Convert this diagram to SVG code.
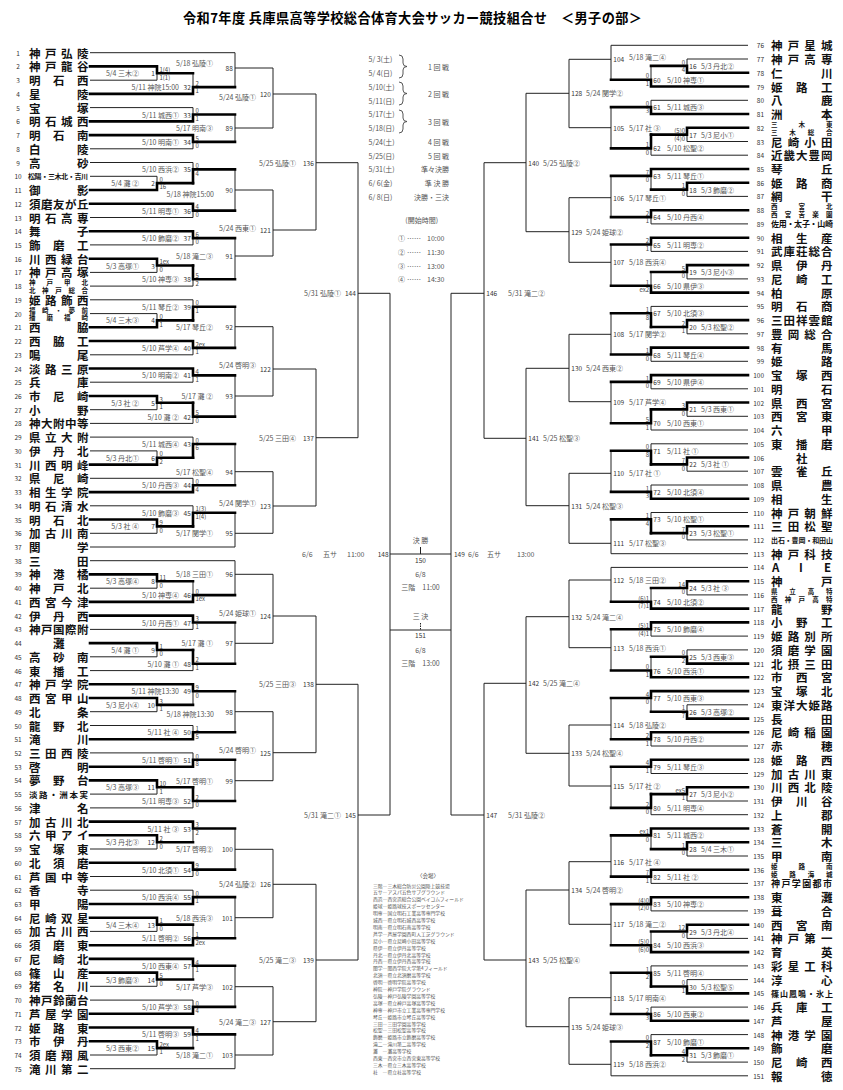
<svg xmlns="http://www.w3.org/2000/svg" width="843" height="1090" viewBox="0 0 843 1090">
<style>
text{font-family:"Noto Sans CJK JP","Noto Sans CJK SC",sans-serif;dominant-baseline:central}
.nm{font-size:11.5px;font-weight:700;fill:#111}
.sm{font-size:6.5px;font-weight:700;fill:#111}
.no{font-size:6.5px;fill:#333;text-anchor:middle}
.nr{font-size:6.5px;fill:#333;text-anchor:end}
.lb{font-size:7px;fill:#555}
.mn{font-size:6.5px;fill:#333}
.sc{font-size:6px;fill:#444}
.e{text-anchor:end}
.c{text-anchor:middle}
.ln{fill:none;stroke:#222;stroke-width:1}
.tk{fill:none;stroke:#000;stroke-width:2.6;stroke-linecap:square;stroke-linejoin:miter}
.vn{font-size:4.8px;fill:#555}
.ti{font-size:13.2px;font-weight:700;fill:#000}
</style>
<rect width="843" height="1090" fill="#fff"/>
<text class="ti" x="183" y="17" textLength="459" lengthAdjust="spacing">令和7年度 兵庫県高等学校総合体育大会サッカー競技組合せ　＜男子の部＞</text>

<g id="connectors">
<path class="ln" d="M90 52.7H235M90 66.4H157M90 80.2H157M90 93.9H193M90 107.6H193M90 121.4H193M90 135.1H193M90 148.8H193M90 162.5H193M90 176.3H157M90 190H157M90 203.7H193M90 217.5H193M90 231.2H193M90 244.9H193M90 258.7H157M90 272.4H157M90 286.1H193M90 299.8H193M90 313.6H157M90 327.3H157M90 341H193M90 354.8H193M90 368.5H193M90 382.2H193M90 396H157M90 409.7H157M90 423.4H193M90 437.1H193M90 450.9H157M90 464.6H157M90 478.3H193M90 492.1H193M90 505.8H193M90 519.5H157M90 533.3H157M90 547H235M90 560.7H235M90 574.4H157M90 588.2H157M90 601.9H193M90 615.6H193M90 629.4H193M90 643.1H157M90 656.8H157M90 670.6H193M90 684.3H193M90 698H157M90 711.7H157M90 725.5H193M90 739.2H193M90 752.9H193M90 766.7H193M90 780.4H157M90 794.1H157M90 807.9H193M90 821.6H193M90 835.3H157M90 849H157M90 862.8H193M90 876.5H193M90 890.2H193M90 904H193M90 917.7H157M90 931.4H157M90 945.2H193M90 958.9H193M90 972.6H157M90 986.3H157M90 1000.1H193M90 1013.8H193M90 1027.5H193M90 1041.3H157M90 1055H157M90 1068.7H235"/>
<path class="ln" d="M157 66.4V80.2M157 73.3H193M157 176.3V190M157 183.1H193M157 258.7V272.4M157 265.5H193M157 313.6V327.3M157 320.4H193M157 396V409.7M157 402.8H193M157 450.9V464.6M157 457.7H193M157 519.5V533.3M157 526.4H193M157 574.4V588.2M157 581.3H193M157 643.1V656.8M157 650H193M157 698V711.7M157 704.9H193M157 780.4V794.1M157 787.3H193M157 835.3V849M157 842.2H193M157 917.7V931.4M157 924.6H193M157 972.6V986.3M157 979.5H193M157 1041.3V1055M157 1048.1H193"/>
<path class="ln" d="M193 73.3V93.9M193 87.1H235M193 107.6V121.4M193 114.5H235M193 135.1V148.8M193 141.9H235M193 162.5V183.1M193 169.4H235M193 203.7V217.5M193 210.6H235M193 231.2V244.9M193 238.1H235M193 265.5V286.1M193 279.3H235M193 299.8V320.4M193 306.7H235M193 341V354.8M193 347.9H235M193 368.5V382.2M193 375.4H235M193 402.8V423.4M193 416.6H235M193 437.1V457.7M193 444H235M193 478.3V492.1M193 485.2H235M193 505.8V526.4M193 512.7H235M193 581.3V601.9M193 595.1H235M193 615.6V629.4M193 622.5H235M193 650V670.6M193 663.7H235M193 684.3V704.9M193 691.2H235M193 725.5V739.2M193 732.3H235M193 752.9V766.7M193 759.8H235M193 787.3V807.9M193 801H235M193 821.6V842.2M193 828.5H235M193 862.8V876.5M193 869.6H235M193 890.2V904M193 897.1H235M193 924.6V945.2M193 938.3H235M193 958.9V979.5M193 965.8H235M193 1000.1V1013.8M193 1006.9H235M193 1027.5V1048.1M193 1034.4H235"/>
<path class="ln" d="M235 52.7V87.1M235 68H273M235 114.5V141.9M235 128H273M235 169.4V210.6M235 190H273M235 238.1V279.3M235 256H273M235 306.7V347.9M235 326.7H273M235 375.4V416.6M235 396H273M235 444V485.2M235 471.7H273M235 512.7V547M235 533.3H273M235 560.7V595.1M235 574.3H273M235 622.5V663.7M235 643.3H273M235 691.2V732.3M235 711.7H273M235 759.8V801M235 780.7H273M235 828.5V869.6M235 849.3H273M235 897.1V938.3M235 917.7H273M235 965.8V1006.9M235 986.7H273M235 1034.4V1068.7M235 1055H273"/>
<path class="ln" d="M273 68V128M273 94H316M273 190V256M273 230H316M273 326.7V396M273 369H316M273 471.7V533.3M273 506H316M273 574.3V643.3M273 616H316M273 711.7V780.7M273 752.7H316M273 849.3V917.7M273 884.3H316M273 986.7V1055M273 1021.7H316M316 94V230M316 162.7H358M316 369V506M316 437.7H358M316 616V752.7M316 684.3H358M316 884.3V1021.7M316 960H358M358 162.7V437.7M358 293.3H390M358 684.3V960M358 815H390M390 293.3V815"/>
<path class="ln" d="M390 554H451M420.5 547V554M390 630H451"/>
<path class="ln" d="M420.5 623V630" stroke-dasharray="1.5 1"/>
<path class="ln" d="M748 45.3H611M748 59H687M748 72.8H687M748 86.5H651M748 100.3H651M748 114H651M748 127.7H687M748 141.5H687M748 155.2H651M748 169H651M748 182.7H687M748 196.4H687M748 210.2H651M748 223.9H651M748 237.7H651M748 251.4H651M748 265.1H687M748 278.9H687M748 292.6H651M748 306.4H651M748 320.1H687M748 333.8H687M748 347.6H651M748 361.3H651M748 375.1H651M748 388.8H651M748 402.5H687M748 416.3H687M748 430H651M748 443.8H651M748 457.5H687M748 471.2H687M748 485H651M748 498.7H651M748 512.5H651M748 526.2H687M748 539.9H687M748 553.7H611M748 567.4H611M748 581.2H687M748 594.9H687M748 608.6H651M748 622.4H651M748 636.1H651M748 649.9H687M748 663.6H687M748 677.3H651M748 691.1H651M748 704.8H687M748 718.6H687M748 732.3H651M748 746H651M748 759.8H651M748 773.5H651M748 787.3H687M748 801H687M748 814.7H651M748 828.5H651M748 842.2H687M748 856H687M748 869.7H651M748 883.4H651M748 897.2H651M748 910.9H651M748 924.7H687M748 938.4H687M748 952.1H651M748 965.9H651M748 979.6H687M748 993.4H687M748 1007.1H651M748 1020.8H651M748 1034.6H651M748 1048.3H687M748 1062.1H687M748 1075.8H611"/>
<path class="ln" d="M687 59V72.8M687 65.9H651M687 127.7V141.5M687 134.6H651M687 182.7V196.4M687 189.6H651M687 265.1V278.9M687 272H651M687 320.1V333.8M687 327H651M687 402.5V416.3M687 409.4H651M687 457.5V471.2M687 464.4H651M687 526.2V539.9M687 533.1H651M687 581.2V594.9M687 588H651M687 649.9V663.6M687 656.7H651M687 704.8V718.6M687 711.7H651M687 787.3V801M687 794.1H651M687 842.2V856M687 849.1H651M687 924.7V938.4M687 931.5H651M687 979.6V993.4M687 986.5H651M687 1048.3V1062.1M687 1055.2H651"/>
<path class="ln" d="M651 65.9V86.5M651 79.7H611M651 100.3V114M651 107.1H611M651 134.6V155.2M651 148.4H611M651 169V189.6M651 175.9H611M651 210.2V223.9M651 217.1H611M651 237.7V251.4M651 244.5H611M651 272V292.6M651 285.8H611M651 306.4V327M651 313.3H611M651 347.6V361.3M651 354.5H611M651 375.1V388.8M651 381.9H611M651 409.4V430M651 423.2H611M651 443.8V464.4M651 450.7H611M651 485V498.7M651 491.9H611M651 512.5V533.1M651 519.4H611M651 588V608.6M651 601.8H611M651 622.4V636.1M651 629.3H611M651 656.7V677.3M651 670.5H611M651 691.1V711.7M651 698H611M651 732.3V746M651 739.2H611M651 759.8V773.5M651 766.7H611M651 794.1V814.7M651 807.9H611M651 828.5V849.1M651 835.4H611M651 869.7V883.4M651 876.6H611M651 897.2V910.9M651 904.1H611M651 931.5V952.1M651 945.3H611M651 965.9V986.5M651 972.8H611M651 1007.1V1020.8M651 1014H611M651 1034.6V1055.2M651 1041.5H611"/>
<path class="ln" d="M611 45.3V79.7M611 59.3H569M611 107.1V148.4M611 127.7H569M611 175.9V217.1M611 197.7H569M611 244.5V285.8M611 262.3H569M611 313.3V354.5M611 334.3H569M611 381.9V423.2M611 401.7H569M611 450.7V491.9M611 473.3H569M611 519.4V553.7M611 543.3H569M611 567.4V601.8M611 580H569M611 629.3V670.5M611 647.7H569M611 698V739.2M611 725H569M611 766.7V807.9M611 786H569M611 835.4V876.6M611 861.7H569M611 904.1V945.3M611 924.3H569M611 972.8V1014M611 997.7H569M611 1041.5V1075.8M611 1064.3H569"/>
<path class="ln" d="M569 59.3V127.7M569 93.3H526M569 197.7V262.3M569 231.7H526M569 334.3V401.7M569 368.3H526M569 473.3V543.3M569 505.7H526M569 580V647.7M569 616.7H526M569 725V786M569 753.3H526M569 861.7V924.3M569 890H526M569 997.7V1064.3M569 1026.7H526M526 93.3V231.7M526 162.7H484M526 368.3V505.7M526 438.3H484M526 616.7V753.3M526 683.3H484M526 890V1026.7M526 960H484M484 162.7V438.3M484 293.3H451M484 683.3V960M484 815H451M451 293.3V815"/>
<path class="tk" d="M90 66.4H157V73.3H193M90 190H157V183.1H193M90 258.7H157V265.5H193M90 327.3H157V320.4H193M90 396H157V402.8H193M90 464.6H157V457.7H193M90 519.5H157V526.4H193M90 574.4H157V581.3H193M90 643.1H157V650H193M90 698H157V704.9H193M90 780.4H157V787.3H193M90 835.3H157V842.2H193M90 917.7H157V924.6H193M90 972.6H157V979.5H193M90 1041.3H157V1048.1H193"/>
<path class="tk" d="M90 93.9H193V87.1H235M90 121.4H193V114.5H235M90 135.1H193V141.9H235M193 183.1V169.4H235M90 203.7H193V210.6H235M90 231.2H193V238.1H235M193 265.5V279.3H235M193 320.4V306.7H235M90 341H193V347.9H235M90 368.5H193V375.4H235M193 402.8V416.6H235M193 457.7V444H235M90 492.1H193V485.2H235M193 526.4V512.7H235M90 601.9H193V595.1H235M90 615.6H193V622.5H235M193 650V663.7H235M90 684.3H193V691.2H235M90 739.2H193V732.3H235M90 766.7H193V759.8H235M193 787.3V801H235M90 821.6H193V828.5H235M90 862.8H193V869.6H235M90 904H193V897.1H235M90 945.2H193V938.3H235M90 958.9H193V965.8H235M90 1013.8H193V1006.9H235M90 1027.5H193V1034.4H235"/>
<path class="tk" d="M748 72.8H687V65.9H651M748 127.7H687V134.6H651M748 182.7H687V189.6H651M748 265.1H687V272H651M748 320.1H687V327H651M748 402.5H687V409.4H651M748 457.5H687V464.4H651M748 526.2H687V533.1H651M748 581.2H687V588H651M748 663.6H687V656.7H651M748 718.6H687V711.7H651M748 787.3H687V794.1H651M748 842.2H687V849.1H651M748 924.7H687V931.5H651M748 993.4H687V986.5H651M748 1048.3H687V1055.2H651"/>
<path class="tk" d="M748 86.5H651V79.7H611M748 114H651V107.1H611M651 134.6V148.4H611M748 169H651V175.9H611M748 210.2H651V217.1H611M748 237.7H651V244.5H611M748 292.6H651V285.8H611M651 327V313.3H611M748 347.6H651V354.5H611M748 375.1H651V381.9H611M651 409.4V423.2H611M651 464.4V450.7H611M748 498.7H651V491.9H611M651 533.1V519.4H611M748 608.6H651V601.8H611M748 622.4H651V629.3H611M748 677.3H651V670.5H611M748 691.1H651V698H611M748 732.3H651V739.2H611M748 759.8H651V766.7H611M651 794.1V807.9H611M748 828.5H651V835.4H611M748 869.7H651V876.6H611M748 897.2H651V904.1H611M748 952.1H651V945.3H611M651 986.5V972.8H611M748 1020.8H651V1014H611M651 1055.2V1041.5H611"/>
</g>

<g id="teams-left">
<g id="t1"><text class="no" x="18" y="52.7">1</text><text class="nm" x="29 45 61 77" y="52.7">神戸弘陵</text></g>
<g id="t2"><text class="no" x="18" y="66.4">2</text><text class="nm" x="29 45 61 77" y="66.4">神戸龍谷</text></g>
<g id="t3"><text class="no" x="18" y="80.2">3</text><text class="nm" x="29 53 77" y="80.2">明石西</text></g>
<g id="t4"><text class="no" x="18" y="93.9">4</text><text class="nm" x="29 77" y="93.9">星陵</text></g>
<g id="t5"><text class="no" x="18" y="107.6">5</text><text class="nm" x="29 77" y="107.6">宝塚</text></g>
<g id="t6"><text class="no" x="18" y="121.4">6</text><text class="nm" x="29 45 61 77" y="121.4">明石城西</text></g>
<g id="t7"><text class="no" x="18" y="135.1">7</text><text class="nm" x="29 53 77" y="135.1">明石南</text></g>
<g id="t8"><text class="no" x="18" y="148.8">8</text><text class="nm" x="29 77" y="148.8">白陵</text></g>
<g id="t9"><text class="no" x="18" y="162.5">9</text><text class="nm" x="29 77" y="162.5">高砂</text></g>
<g id="t10"><text class="no" x="18" y="176.3">10</text><text class="sm" style="font-size:7px" x="28 34.6 41.3 47.9 54.5 61.1 67.8 74.4 81" y="176.3">松陽・三木北・吉川</text></g>
<g id="t11"><text class="no" x="18" y="190">11</text><text class="nm" x="29 77" y="190">御影</text></g>
<g id="t12"><text class="no" x="18" y="203.7">12</text><text class="nm" x="29 41 53 65 77" y="203.7">須磨友が丘</text></g>
<g id="t13"><text class="no" x="18" y="217.5">13</text><text class="nm" x="29 45 61 77" y="217.5">明石高専</text></g>
<g id="t14"><text class="no" x="18" y="231.2">14</text><text class="nm" x="29 77" y="231.2">舞子</text></g>
<g id="t15"><text class="no" x="18" y="244.9">15</text><text class="nm" x="29 53 77" y="244.9">飾磨工</text></g>
<g id="t16"><text class="no" x="18" y="258.7">16</text><text class="nm" x="29 45 61 77" y="258.7">川西緑台</text></g>
<g id="t17"><text class="no" x="18" y="272.4">17</text><text class="nm" x="29 45 61 77" y="272.4">神戸高塚</text></g>
<g id="t18"><text class="no" x="18" y="286.1">18</text><text class="sm" x="29 46.5 64 81.5" y="282.3">神戸甲北</text><text class="sm" x="29 42.1 55.2 68.4 81.5" y="289.9">北神戸総合</text></g>
<g id="t19"><text class="no" x="18" y="299.8">19</text><text class="nm" x="29 45 61 77" y="299.8">姫路飾西</text></g>
<g id="t20"><text class="no" x="18" y="313.6">20</text><text class="sm" x="29 42.1 55.2 68.4 81.5" y="309.8">福崎・夢前</text><text class="sm" x="29 46.5 64 81.5" y="317.4">播磨福崎</text></g>
<g id="t21"><text class="no" x="18" y="327.3">21</text><text class="nm" x="29 77" y="327.3">西脇</text></g>
<g id="t22"><text class="no" x="18" y="341">22</text><text class="nm" x="29 53 77" y="341">西脇工</text></g>
<g id="t23"><text class="no" x="18" y="354.8">23</text><text class="nm" x="29 77" y="354.8">鳴尾</text></g>
<g id="t24"><text class="no" x="18" y="368.5">24</text><text class="nm" x="29 45 61 77" y="368.5">淡路三原</text></g>
<g id="t25"><text class="no" x="18" y="382.2">25</text><text class="nm" x="29 77" y="382.2">兵庫</text></g>
<g id="t26"><text class="no" x="18" y="396">26</text><text class="nm" x="29 53 77" y="396">市尼崎</text></g>
<g id="t27"><text class="no" x="18" y="409.7">27</text><text class="nm" x="29 77" y="409.7">小野</text></g>
<g id="t28"><text class="no" x="18" y="423.4">28</text><text class="nm" x="29 41 53 65 77" y="423.4">神大附中等</text></g>
<g id="t29"><text class="no" x="18" y="437.1">29</text><text class="nm" x="29 45 61 77" y="437.1">県立大附</text></g>
<g id="t30"><text class="no" x="18" y="450.9">30</text><text class="nm" x="29 53 77" y="450.9">伊丹北</text></g>
<g id="t31"><text class="no" x="18" y="464.6">31</text><text class="nm" x="29 45 61 77" y="464.6">川西明峰</text></g>
<g id="t32"><text class="no" x="18" y="478.3">32</text><text class="nm" x="29 53 77" y="478.3">県尼崎</text></g>
<g id="t33"><text class="no" x="18" y="492.1">33</text><text class="nm" x="29 45 61 77" y="492.1">相生学院</text></g>
<g id="t34"><text class="no" x="18" y="505.8">34</text><text class="nm" x="29 45 61 77" y="505.8">明石清水</text></g>
<g id="t35"><text class="no" x="18" y="519.5">35</text><text class="nm" x="29 53 77" y="519.5">明石北</text></g>
<g id="t36"><text class="no" x="18" y="533.3">36</text><text class="nm" x="29 45 61 77" y="533.3">加古川南</text></g>
<g id="t37"><text class="no" x="18" y="547">37</text><text class="nm" x="29 77" y="547">関学</text></g>
<g id="t38"><text class="no" x="18" y="560.7">38</text><text class="nm" x="29 77" y="560.7">三田</text></g>
<g id="t39"><text class="no" x="18" y="574.4">39</text><text class="nm" x="29 53 77" y="574.4">神港橘</text></g>
<g id="t40"><text class="no" x="18" y="588.2">40</text><text class="nm" x="29 53 77" y="588.2">神戸北</text></g>
<g id="t41"><text class="no" x="18" y="601.9">41</text><text class="nm" x="29 45 61 77" y="601.9">西宮今津</text></g>
<g id="t42"><text class="no" x="18" y="615.6">42</text><text class="nm" x="29 53 77" y="615.6">伊丹西</text></g>
<g id="t43"><text class="no" x="18" y="629.4">43</text><text class="nm" x="29 41 53 65 77" y="629.4">神戸国際附</text></g>
<g id="t44"><text class="no" x="18" y="643.1">44</text><text class="nm" x="53" y="643.1">灘</text></g>
<g id="t45"><text class="no" x="18" y="656.8">45</text><text class="nm" x="29 53 77" y="656.8">高砂南</text></g>
<g id="t46"><text class="no" x="18" y="670.6">46</text><text class="nm" x="29 53 77" y="670.6">東播工</text></g>
<g id="t47"><text class="no" x="18" y="684.3">47</text><text class="nm" x="29 45 61 77" y="684.3">神戸学院</text></g>
<g id="t48"><text class="no" x="18" y="698">48</text><text class="nm" x="29 45 61 77" y="698">西宮甲山</text></g>
<g id="t49"><text class="no" x="18" y="711.7">49</text><text class="nm" x="29 77" y="711.7">北条</text></g>
<g id="t50"><text class="no" x="18" y="725.5">50</text><text class="nm" x="29 53 77" y="725.5">龍野北</text></g>
<g id="t51"><text class="no" x="18" y="739.2">51</text><text class="nm" x="29 77" y="739.2">滝川</text></g>
<g id="t52"><text class="no" x="18" y="752.9">52</text><text class="nm" x="29 45 61 77" y="752.9">三田西陵</text></g>
<g id="t53"><text class="no" x="18" y="766.7">53</text><text class="nm" x="29 77" y="766.7">啓明</text></g>
<g id="t54"><text class="no" x="18" y="780.4">54</text><text class="nm" x="29 53 77" y="780.4">夢野台</text></g>
<g id="t55"><text class="no" x="18" y="794.1">55</text><text class="sm" style="font-size:8.5px" x="29 39.1 49.2 59.3 69.4 79.5" y="794.1">淡路・洲本実</text></g>
<g id="t56"><text class="no" x="18" y="807.9">56</text><text class="nm" x="29 77" y="807.9">津名</text></g>
<g id="t57"><text class="no" x="18" y="821.6">57</text><text class="nm" x="29 45 61 77" y="821.6">加古川北</text></g>
<g id="t58"><text class="no" x="18" y="835.3">58</text><text class="nm" x="29 45 61 77" y="835.3">六甲アイ</text></g>
<g id="t59"><text class="no" x="18" y="849">59</text><text class="nm" x="29 53 77" y="849">宝塚東</text></g>
<g id="t60"><text class="no" x="18" y="862.8">60</text><text class="nm" x="29 53 77" y="862.8">北須磨</text></g>
<g id="t61"><text class="no" x="18" y="876.5">61</text><text class="nm" x="29 45 61 77" y="876.5">芦国中等</text></g>
<g id="t62"><text class="no" x="18" y="890.2">62</text><text class="nm" x="29 77" y="890.2">香寺</text></g>
<g id="t63"><text class="no" x="18" y="904">63</text><text class="nm" x="29 77" y="904">甲陽</text></g>
<g id="t64"><text class="no" x="18" y="917.7">64</text><text class="nm" x="29 45 61 77" y="917.7">尼崎双星</text></g>
<g id="t65"><text class="no" x="18" y="931.4">65</text><text class="nm" x="29 45 61 77" y="931.4">加古川西</text></g>
<g id="t66"><text class="no" x="18" y="945.2">66</text><text class="nm" x="29 53 77" y="945.2">須磨東</text></g>
<g id="t67"><text class="no" x="18" y="958.9">67</text><text class="nm" x="29 53 77" y="958.9">尼崎北</text></g>
<g id="t68"><text class="no" x="18" y="972.6">68</text><text class="nm" x="29 53 77" y="972.6">篠山産</text></g>
<g id="t69"><text class="no" x="18" y="986.3">69</text><text class="nm" x="29 53 77" y="986.3">猪名川</text></g>
<g id="t70"><text class="no" x="18" y="1000.1">70</text><text class="nm" x="29 41 53 65 77" y="1000.1">神戸鈴蘭台</text></g>
<g id="t71"><text class="no" x="18" y="1013.8">71</text><text class="nm" x="29 45 61 77" y="1013.8">芦屋学園</text></g>
<g id="t72"><text class="no" x="18" y="1027.5">72</text><text class="nm" x="29 53 77" y="1027.5">姫路東</text></g>
<g id="t73"><text class="no" x="18" y="1041.3">73</text><text class="nm" x="29 53 77" y="1041.3">市伊丹</text></g>
<g id="t74"><text class="no" x="18" y="1055">74</text><text class="nm" x="29 45 61 77" y="1055">須磨翔風</text></g>
<g id="t75"><text class="no" x="18" y="1068.7">75</text><text class="nm" x="29 45 61 77" y="1068.7">滝川第二</text></g>
</g>

<g id="teams-right">
<g id="t76"><text class="nr" x="764" y="45.3">76</text><text class="nm" x="771 787.7 804.3 821" y="45.3">神戸星城</text></g>
<g id="t77"><text class="nr" x="764" y="59">77</text><text class="nm" x="771 787.7 804.3 821" y="59">神戸高専</text></g>
<g id="t78"><text class="nr" x="764" y="72.8">78</text><text class="nm" x="771 821" y="72.8">仁川</text></g>
<g id="t79"><text class="nr" x="764" y="86.5">79</text><text class="nm" x="771 796 821" y="86.5">姫路工</text></g>
<g id="t80"><text class="nr" x="764" y="100.3">80</text><text class="nm" x="771 821" y="100.3">八鹿</text></g>
<g id="t81"><text class="nr" x="764" y="114">81</text><text class="nm" x="771 821" y="114">洲本</text></g>
<g id="t82"><text class="nr" x="764" y="127.7">82</text><text class="sm" x="771 798.5 826" y="123.9">三木東</text><text class="sm" x="771 789.3 807.7 826" y="131.5">三木総合</text></g>
<g id="t83"><text class="nr" x="764" y="141.5">83</text><text class="nm" x="771 787.7 804.3 821" y="141.5">尼崎小田</text></g>
<g id="t84"><text class="nr" x="764" y="155.2">84</text><text class="nm" x="771 783.5 796 808.5 821" y="155.2">近畿大豊岡</text></g>
<g id="t85"><text class="nr" x="764" y="169">85</text><text class="nm" x="771 821" y="169">琴丘</text></g>
<g id="t86"><text class="nr" x="764" y="182.7">86</text><text class="nm" x="771 796 821" y="182.7">姫路商</text></g>
<g id="t87"><text class="nr" x="764" y="196.4">87</text><text class="nm" x="771 821" y="196.4">網干</text></g>
<g id="t88"><text class="nr" x="764" y="210.2">88</text><text class="sm" x="771 798.5 826" y="206.4">西宮北</text><text class="sm" x="771 784.8 798.5 812.3 826" y="214">西宮苦楽園</text></g>
<g id="t89"><text class="nr" x="764" y="223.9">89</text><text class="sm" style="font-size:8px" x="771 778.7 786.4 794.1 801.9 809.6 817.3 825" y="223.9">佐用・太子・山崎</text></g>
<g id="t90"><text class="nr" x="764" y="237.7">90</text><text class="nm" x="771 796 821" y="237.7">相生産</text></g>
<g id="t91"><text class="nr" x="764" y="251.4">91</text><text class="nm" x="771 783.5 796 808.5 821" y="251.4">武庫荘総合</text></g>
<g id="t92"><text class="nr" x="764" y="265.1">92</text><text class="nm" x="771 796 821" y="265.1">県伊丹</text></g>
<g id="t93"><text class="nr" x="764" y="278.9">93</text><text class="nm" x="771 796 821" y="278.9">尼崎工</text></g>
<g id="t94"><text class="nr" x="764" y="292.6">94</text><text class="nm" x="771 821" y="292.6">柏原</text></g>
<g id="t95"><text class="nr" x="764" y="306.4">95</text><text class="nm" x="771 796 821" y="306.4">明石商</text></g>
<g id="t96"><text class="nr" x="764" y="320.1">96</text><text class="nm" x="771 783.5 796 808.5 821" y="320.1">三田祥雲館</text></g>
<g id="t97"><text class="nr" x="764" y="333.8">97</text><text class="nm" x="771 787.7 804.3 821" y="333.8">豊岡総合</text></g>
<g id="t98"><text class="nr" x="764" y="347.6">98</text><text class="nm" x="771 821" y="347.6">有馬</text></g>
<g id="t99"><text class="nr" x="764" y="361.3">99</text><text class="nm" x="771 821" y="361.3">姫路</text></g>
<g id="t100"><text class="nr" x="764" y="375.1">100</text><text class="nm" x="771 796 821" y="375.1">宝塚西</text></g>
<g id="t101"><text class="nr" x="764" y="388.8">101</text><text class="nm" x="771 821" y="388.8">明石</text></g>
<g id="t102"><text class="nr" x="764" y="402.5">102</text><text class="nm" x="771 796 821" y="402.5">県西宮</text></g>
<g id="t103"><text class="nr" x="764" y="416.3">103</text><text class="nm" x="771 796 821" y="416.3">西宮東</text></g>
<g id="t104"><text class="nr" x="764" y="430">104</text><text class="nm" x="771 821" y="430">六甲</text></g>
<g id="t105"><text class="nr" x="764" y="443.8">105</text><text class="nm" x="771 796 821" y="443.8">東播磨</text></g>
<g id="t106"><text class="nr" x="764" y="457.5">106</text><text class="nm" x="796" y="457.5">社</text></g>
<g id="t107"><text class="nr" x="764" y="471.2">107</text><text class="nm" x="771 796 821" y="471.2">雲雀丘</text></g>
<g id="t108"><text class="nr" x="764" y="485">108</text><text class="nm" x="771 821" y="485">県農</text></g>
<g id="t109"><text class="nr" x="764" y="498.7">109</text><text class="nm" x="771 821" y="498.7">相生</text></g>
<g id="t110"><text class="nr" x="764" y="512.5">110</text><text class="nm" x="771 787.7 804.3 821" y="512.5">神戸朝鮮</text></g>
<g id="t111"><text class="nr" x="764" y="526.2">111</text><text class="nm" x="771 787.7 804.3 821" y="526.2">三田松聖</text></g>
<g id="t112"><text class="nr" x="764" y="539.9">112</text><text class="sm" style="font-size:7px" x="771 777.9 784.8 791.6 798.5 805.4 812.3 819.1 826" y="539.9">出石・豊岡・和田山</text></g>
<g id="t113"><text class="nr" x="764" y="553.7">113</text><text class="nm" x="771 787.7 804.3 821" y="553.7">神戸科技</text></g>
<g id="t114"><text class="nr" x="764" y="567.4">114</text><text class="nm" x="772 799 824" y="567.4">AIE</text></g>
<g id="t115"><text class="nr" x="764" y="581.2">115</text><text class="nm" x="771 821" y="581.2">神戸</text></g>
<g id="t116"><text class="nr" x="764" y="594.9">116</text><text class="sm" x="771 789.3 807.7 826" y="591.1">県立高特</text><text class="sm" x="771 784.8 798.5 812.3 826" y="598.7">西神戸高特</text></g>
<g id="t117"><text class="nr" x="764" y="608.6">117</text><text class="nm" x="771 821" y="608.6">龍野</text></g>
<g id="t118"><text class="nr" x="764" y="622.4">118</text><text class="nm" x="771 796 821" y="622.4">小野工</text></g>
<g id="t119"><text class="nr" x="764" y="636.1">119</text><text class="nm" x="771 787.7 804.3 821" y="636.1">姫路別所</text></g>
<g id="t120"><text class="nr" x="764" y="649.9">120</text><text class="nm" x="771 787.7 804.3 821" y="649.9">須磨学園</text></g>
<g id="t121"><text class="nr" x="764" y="663.6">121</text><text class="nm" x="771 787.7 804.3 821" y="663.6">北摂三田</text></g>
<g id="t122"><text class="nr" x="764" y="677.3">122</text><text class="nm" x="771 796 821" y="677.3">市西宮</text></g>
<g id="t123"><text class="nr" x="764" y="691.1">123</text><text class="nm" x="771 796 821" y="691.1">宝塚北</text></g>
<g id="t124"><text class="nr" x="764" y="704.8">124</text><text class="nm" x="771 783.5 796 808.5 821" y="704.8">東洋大姫路</text></g>
<g id="t125"><text class="nr" x="764" y="718.6">125</text><text class="nm" x="771 821" y="718.6">長田</text></g>
<g id="t126"><text class="nr" x="764" y="732.3">126</text><text class="nm" x="771 787.7 804.3 821" y="732.3">尼崎稲園</text></g>
<g id="t127"><text class="nr" x="764" y="746">127</text><text class="nm" x="771 821" y="746">赤穂</text></g>
<g id="t128"><text class="nr" x="764" y="759.8">128</text><text class="nm" x="771 796 821" y="759.8">姫路西</text></g>
<g id="t129"><text class="nr" x="764" y="773.5">129</text><text class="nm" x="771 787.7 804.3 821" y="773.5">加古川東</text></g>
<g id="t130"><text class="nr" x="764" y="787.3">130</text><text class="nm" x="771 787.7 804.3 821" y="787.3">川西北陵</text></g>
<g id="t131"><text class="nr" x="764" y="801">131</text><text class="nm" x="771 796 821" y="801">伊川谷</text></g>
<g id="t132"><text class="nr" x="764" y="814.7">132</text><text class="nm" x="771 821" y="814.7">上郡</text></g>
<g id="t133"><text class="nr" x="764" y="828.5">133</text><text class="nm" x="771 821" y="828.5">蒼開</text></g>
<g id="t134"><text class="nr" x="764" y="842.2">134</text><text class="nm" x="771 821" y="842.2">三木</text></g>
<g id="t135"><text class="nr" x="764" y="856">135</text><text class="nm" x="771 821" y="856">甲南</text></g>
<g id="t136"><text class="nr" x="764" y="869.7">136</text><text class="sm" x="771 798.5 826" y="865.9">姫路南</text><text class="sm" x="771 789.3 807.7 826" y="873.5">姫路海城</text></g>
<g id="t137"><text class="nr" x="764" y="883.4">137</text><text class="sm" style="font-size:9px" x="771 781.4 791.8 802.2 812.6 823" y="883.4">神戸学園都市</text></g>
<g id="t138"><text class="nr" x="764" y="897.2">138</text><text class="nm" x="771 821" y="897.2">東灘</text></g>
<g id="t139"><text class="nr" x="764" y="910.9">139</text><text class="nm" x="771 821" y="910.9">葺合</text></g>
<g id="t140"><text class="nr" x="764" y="924.7">140</text><text class="nm" x="771 796 821" y="924.7">西宮南</text></g>
<g id="t141"><text class="nr" x="764" y="938.4">141</text><text class="nm" x="771 787.7 804.3 821" y="938.4">神戸第一</text></g>
<g id="t142"><text class="nr" x="764" y="952.1">142</text><text class="nm" x="771 821" y="952.1">育英</text></g>
<g id="t143"><text class="nr" x="764" y="965.9">143</text><text class="nm" x="771 787.7 804.3 821" y="965.9">彩星工科</text></g>
<g id="t144"><text class="nr" x="764" y="979.6">144</text><text class="nm" x="771 821" y="979.6">淳心</text></g>
<g id="t145"><text class="nr" x="764" y="993.4">145</text><text class="sm" style="font-size:8px" x="771 780 789 798 807 816 825" y="993.4">篠山鳳鳴・氷上</text></g>
<g id="t146"><text class="nr" x="764" y="1007.1">146</text><text class="nm" x="771 796 821" y="1007.1">兵庫工</text></g>
<g id="t147"><text class="nr" x="764" y="1020.8">147</text><text class="nm" x="771 821" y="1020.8">芦屋</text></g>
<g id="t148"><text class="nr" x="764" y="1034.6">148</text><text class="nm" x="771 787.7 804.3 821" y="1034.6">神港学園</text></g>
<g id="t149"><text class="nr" x="764" y="1048.3">149</text><text class="nm" x="771 821" y="1048.3">飾磨</text></g>
<g id="t150"><text class="nr" x="764" y="1062.1">150</text><text class="nm" x="771 796 821" y="1062.1">尼崎西</text></g>
<g id="t151"><text class="nr" x="764" y="1075.8">151</text><text class="nm" x="771 821" y="1075.8">報徳</text></g>
</g>

<g id="matches-left-r1">
<g id="m1"><text class="lb e" x="139" y="73.3">5/4 三木②</text><text class="mn e" x="154.8" y="73.3">1</text><text class="sc" x="159.5" y="69.5">1(4)</text><text class="sc" x="159.5" y="77.1">1(1)</text></g>
<g id="m2"><text class="lb e" x="139" y="183.1">5/4 灘 ②</text><text class="mn e" x="154.8" y="183.1">2</text><text class="sc" x="159.5" y="179.3">0</text><text class="sc" x="159.5" y="186.9">16</text></g>
<g id="m3"><text class="lb e" x="139" y="265.5">5/3 高塚①</text><text class="mn e" x="154.8" y="265.5">3</text><text class="sc" x="159.5" y="261.7">1ex</text><text class="sc" x="159.5" y="269.3">0</text></g>
<g id="m4"><text class="lb e" x="139" y="320.4">5/4 三木③</text><text class="mn e" x="154.8" y="320.4">4</text><text class="sc" x="159.5" y="316.6">0</text><text class="sc" x="159.5" y="324.2">1</text></g>
<g id="m5"><text class="lb e" x="139" y="402.8">5/3 社 ②</text><text class="mn e" x="154.8" y="402.8">5</text><text class="sc" x="159.5" y="399">3</text><text class="sc" x="159.5" y="406.6">1</text></g>
<g id="m6"><text class="lb e" x="139" y="457.7">5/3 丹北①</text><text class="mn e" x="154.8" y="457.7">6</text><text class="sc" x="159.5" y="453.9">0</text><text class="sc" x="159.5" y="461.5">2</text></g>
<g id="m7"><text class="lb e" x="139" y="526.4">5/3 社 ④</text><text class="mn e" x="154.8" y="526.4">7</text><text class="sc" x="159.5" y="522.6">9</text><text class="sc" x="159.5" y="530.2">0</text></g>
<g id="m8"><text class="lb e" x="139" y="581.3">5/3 高塚④</text><text class="mn e" x="154.8" y="581.3">8</text><text class="sc" x="159.5" y="577.5">11</text><text class="sc" x="159.5" y="585.1">0</text></g>
<g id="m9"><text class="lb e" x="139" y="650">5/4 灘 ①</text><text class="mn e" x="154.8" y="650">9</text><text class="sc" x="159.5" y="646.2">1</text><text class="sc" x="159.5" y="653.8">0</text></g>
<g id="m10"><text class="lb e" x="139" y="704.9">5/3 尼小④</text><text class="mn e" x="154.8" y="704.9">10</text><text class="sc" x="159.5" y="701.1">3</text><text class="sc" x="159.5" y="708.7">1</text></g>
<g id="m11"><text class="lb e" x="139" y="787.3">5/3 高塚③</text><text class="mn e" x="154.8" y="787.3">11</text><text class="sc" x="159.5" y="783.5">10</text><text class="sc" x="159.5" y="791.1">1</text></g>
<g id="m12"><text class="lb e" x="139" y="842.2">5/3 丹北③</text><text class="mn e" x="154.8" y="842.2">12</text><text class="sc" x="159.5" y="838.4">2</text><text class="sc" x="159.5" y="846">0</text></g>
<g id="m13"><text class="lb e" x="139" y="924.6">5/4 三木④</text><text class="mn e" x="154.8" y="924.6">13</text><text class="sc" x="159.5" y="920.8">1</text><text class="sc" x="159.5" y="928.4">0</text></g>
<g id="m14"><text class="lb e" x="139" y="979.5">5/3 飾磨③</text><text class="mn e" x="154.8" y="979.5">14</text><text class="sc" x="159.5" y="975.7">5</text><text class="sc" x="159.5" y="983.3">0</text></g>
<g id="m15"><text class="lb e" x="139" y="1048.1">5/3 西東②</text><text class="mn e" x="154.8" y="1048.1">15</text><text class="sc" x="159.5" y="1044.3">2ex</text><text class="sc" x="159.5" y="1051.9">1</text></g>
</g>

<g id="matches-left-r2">
<g id="m32"><text class="lb e" x="179" y="87.1">5/11 神院15:00</text><text class="mn e" x="190.8" y="87.1">32</text><text class="sc" x="195.5" y="83.3">2</text><text class="sc" x="195.5" y="90.9">1</text></g>
<g id="m33"><text class="lb e" x="179" y="114.5">5/11 城西①</text><text class="mn e" x="190.8" y="114.5">33</text><text class="sc" x="195.5" y="110.7">0</text><text class="sc" x="195.5" y="118.3">1</text></g>
<g id="m34"><text class="lb e" x="179" y="141.9">5/10 明南①</text><text class="mn e" x="190.8" y="141.9">34</text><text class="sc" x="195.5" y="138.1">5</text><text class="sc" x="195.5" y="145.7">0</text></g>
<g id="m35"><text class="lb e" x="179" y="169.4">5/10 西浜②</text><text class="mn e" x="190.8" y="169.4">35</text><text class="sc" x="195.5" y="165.6">0</text><text class="sc" x="195.5" y="173.2">4</text></g>
<g id="m36"><text class="lb e" x="179" y="210.6">5/11 明専①</text><text class="mn e" x="190.8" y="210.6">36</text><text class="sc" x="195.5" y="206.8">4</text><text class="sc" x="195.5" y="214.4">0</text></g>
<g id="m37"><text class="lb e" x="179" y="238.1">5/10 飾磨②</text><text class="mn e" x="190.8" y="238.1">37</text><text class="sc" x="195.5" y="234.3">6</text><text class="sc" x="195.5" y="241.9">0</text></g>
<g id="m38"><text class="lb e" x="179" y="279.3">5/10 神専③</text><text class="mn e" x="190.8" y="279.3">38</text><text class="sc" x="195.5" y="275.5">5</text><text class="sc" x="195.5" y="283.1">2</text></g>
<g id="m39"><text class="lb e" x="179" y="306.7">5/11 琴丘②</text><text class="mn e" x="190.8" y="306.7">39</text><text class="sc" x="195.5" y="302.9">0</text><text class="sc" x="195.5" y="310.5">1</text></g>
<g id="m40"><text class="lb e" x="179" y="347.9">5/10 芦学④</text><text class="mn e" x="190.8" y="347.9">40</text><text class="sc" x="195.5" y="344.1">2ex</text><text class="sc" x="195.5" y="351.7">1</text></g>
<g id="m41"><text class="lb e" x="179" y="375.4">5/10 明南②</text><text class="mn e" x="190.8" y="375.4">41</text><text class="sc" x="195.5" y="371.6">4</text><text class="sc" x="195.5" y="379.2">1</text></g>
<g id="m42"><text class="lb e" x="179" y="416.6">5/10 灘 ②</text><text class="mn e" x="190.8" y="416.6">42</text><text class="sc" x="195.5" y="412.8">5</text><text class="sc" x="195.5" y="420.4">0</text></g>
<g id="m43"><text class="lb e" x="179" y="444">5/11 城西④</text><text class="mn e" x="190.8" y="444">43</text><text class="sc" x="195.5" y="440.2">0</text><text class="sc" x="195.5" y="447.8">6</text></g>
<g id="m44"><text class="lb e" x="179" y="485.2">5/10 丹西③</text><text class="mn e" x="190.8" y="485.2">44</text><text class="sc" x="195.5" y="481.4">0</text><text class="sc" x="195.5" y="489">4</text></g>
<g id="m45"><text class="lb e" x="179" y="512.7">5/10 飾磨③</text><text class="mn e" x="190.8" y="512.7">45</text><text class="sc" x="195.5" y="508.9">1(3)</text><text class="sc" x="195.5" y="516.5">1(4)</text></g>
<g id="m46"><text class="lb e" x="179" y="595.1">5/10 神専④</text><text class="mn e" x="190.8" y="595.1">46</text><text class="sc" x="195.5" y="591.3">0</text><text class="sc" x="195.5" y="598.9">1ex</text></g>
<g id="m47"><text class="lb e" x="179" y="622.5">5/10 丹西①</text><text class="mn e" x="190.8" y="622.5">47</text><text class="sc" x="195.5" y="618.7">3</text><text class="sc" x="195.5" y="626.3">1</text></g>
<g id="m48"><text class="lb e" x="179" y="663.7">5/10 灘 ①</text><text class="mn e" x="190.8" y="663.7">48</text><text class="sc" x="195.5" y="659.9">2</text><text class="sc" x="195.5" y="667.5">1</text></g>
<g id="m49"><text class="lb e" x="179" y="691.2">5/11 神院13:30</text><text class="mn e" x="190.8" y="691.2">49</text><text class="sc" x="195.5" y="687.4">9</text><text class="sc" x="195.5" y="695">0</text></g>
<g id="m50"><text class="lb e" x="179" y="732.3">5/11 社 ④</text><text class="mn e" x="190.8" y="732.3">50</text><text class="sc" x="195.5" y="728.5">1</text><text class="sc" x="195.5" y="736.1">5</text></g>
<g id="m51"><text class="lb e" x="179" y="759.8">5/11 啓明①</text><text class="mn e" x="190.8" y="759.8">51</text><text class="sc" x="195.5" y="756">0</text><text class="sc" x="195.5" y="763.6">8</text></g>
<g id="m52"><text class="lb e" x="179" y="801">5/11 明専③</text><text class="mn e" x="190.8" y="801">52</text><text class="sc" x="195.5" y="797.2">2</text><text class="sc" x="195.5" y="804.8">0</text></g>
<g id="m53"><text class="lb e" x="179" y="828.5">5/11 社 ③</text><text class="mn e" x="190.8" y="828.5">53</text><text class="sc" x="195.5" y="824.7">3</text><text class="sc" x="195.5" y="832.3">2</text></g>
<g id="m54"><text class="lb e" x="179" y="869.6">5/10 北須①</text><text class="mn e" x="190.8" y="869.6">54</text><text class="sc" x="195.5" y="865.8">9</text><text class="sc" x="195.5" y="873.4">0</text></g>
<g id="m55"><text class="lb e" x="179" y="897.1">5/10 西浜④</text><text class="mn e" x="190.8" y="897.1">55</text><text class="sc" x="195.5" y="893.3">0</text><text class="sc" x="195.5" y="900.9">1</text></g>
<g id="m56"><text class="lb e" x="179" y="938.3">5/11 啓明②</text><text class="mn e" x="190.8" y="938.3">56</text><text class="sc" x="195.5" y="934.5">1</text><text class="sc" x="195.5" y="942.1">2ex</text></g>
<g id="m57"><text class="lb e" x="179" y="965.8">5/10 西東④</text><text class="mn e" x="190.8" y="965.8">57</text><text class="sc" x="195.5" y="962">4</text><text class="sc" x="195.5" y="969.6">1</text></g>
<g id="m58"><text class="lb e" x="179" y="1006.9">5/10 芦学③</text><text class="mn e" x="190.8" y="1006.9">58</text><text class="sc" x="195.5" y="1003.1">0</text><text class="sc" x="195.5" y="1010.7">4</text></g>
<g id="m59"><text class="lb e" x="179" y="1034.4">5/11 啓明③</text><text class="mn e" x="190.8" y="1034.4">59</text><text class="sc" x="195.5" y="1030.6">4</text><text class="sc" x="195.5" y="1038.2">1</text></g>
</g>

<g id="matches-left-r3">
<g id="m88"><text class="lb e" x="213" y="63">5/18 弘陵①</text><text class="mn e" x="232.8" y="68">88</text></g>
<g id="m89"><text class="lb e" x="213" y="128">5/17 明南③</text><text class="mn e" x="232.8" y="128">89</text></g>
<g id="m90"><text class="lb e" x="214" y="193.5">5/18 神院15:00</text><text class="mn e" x="232.8" y="190">90</text></g>
<g id="m91"><text class="lb e" x="213" y="256">5/18 滝二③</text><text class="mn e" x="232.8" y="256">91</text></g>
<g id="m92"><text class="lb e" x="213" y="326.7">5/17 琴丘②</text><text class="mn e" x="232.8" y="326.7">92</text></g>
<g id="m93"><text class="lb e" x="213" y="396">5/17 灘 ②</text><text class="mn e" x="232.8" y="396">93</text></g>
<g id="m94"><text class="lb e" x="213" y="471.7">5/17 松聖④</text><text class="mn e" x="232.8" y="471.7">94</text></g>
<g id="m95"><text class="lb e" x="213" y="533.3">5/17 関学①</text><text class="mn e" x="232.8" y="533.3">95</text></g>
<g id="m96"><text class="lb e" x="213" y="574.3">5/18 三田①</text><text class="mn e" x="232.8" y="574.3">96</text></g>
<g id="m97"><text class="lb e" x="213" y="643.3">5/17 灘 ①</text><text class="mn e" x="232.8" y="643.3">97</text></g>
<g id="m98"><text class="lb e" x="214" y="714">5/18 神院13:30</text><text class="mn e" x="232.8" y="711.7">98</text></g>
<g id="m99"><text class="lb e" x="213" y="780.7">5/17 啓明①</text><text class="mn e" x="232.8" y="780.7">99</text></g>
<g id="m100"><text class="lb e" x="213" y="849.3">5/17 啓明②</text><text class="mn e" x="232.8" y="849.3">100</text></g>
<g id="m101"><text class="lb e" x="213" y="917.7">5/18 西浜③</text><text class="mn e" x="232.8" y="917.7">101</text></g>
<g id="m102"><text class="lb e" x="213" y="986.7">5/17 芦学③</text><text class="mn e" x="232.8" y="986.7">102</text></g>
<g id="m103"><text class="lb e" x="213" y="1055">5/18 滝二①</text><text class="mn e" x="232.8" y="1055">103</text></g>
</g>

<g id="matches-left-r4">
<g id="m120"><text class="lb e" x="256" y="97">5/24 弘陵①</text><text class="mn e" x="270.8" y="94">120</text></g>
<g id="m121"><text class="lb e" x="256" y="228">5/24 西東①</text><text class="mn e" x="270.8" y="230">121</text></g>
<g id="m122"><text class="lb e" x="256" y="365">5/24 啓明③</text><text class="mn e" x="270.8" y="369">122</text></g>
<g id="m123"><text class="lb e" x="256" y="503">5/24 関学①</text><text class="mn e" x="270.8" y="506">123</text></g>
<g id="m124"><text class="lb e" x="256" y="613">5/24 姫球①</text><text class="mn e" x="270.8" y="616">124</text></g>
<g id="m125"><text class="lb e" x="256" y="749.5">5/24 啓明①</text><text class="mn e" x="270.8" y="752.7">125</text></g>
<g id="m126"><text class="lb e" x="256" y="884.3">5/24 弘陵②</text><text class="mn e" x="270.8" y="884.3">126</text></g>
<g id="m127"><text class="lb e" x="256" y="1021.7">5/24 滝二③</text><text class="mn e" x="270.8" y="1021.7">127</text></g>
<g id="m136"><text class="lb e" x="296" y="162.7">5/25 弘陵①</text><text class="mn e" x="313.8" y="162.7">136</text></g>
<g id="m137"><text class="lb e" x="296" y="437.7">5/25 三田④</text><text class="mn e" x="313.8" y="437.7">137</text></g>
<g id="m138"><text class="lb e" x="296" y="684.3">5/25 三田③</text><text class="mn e" x="313.8" y="684.3">138</text></g>
<g id="m139"><text class="lb e" x="296" y="960">5/25 滝二③</text><text class="mn e" x="313.8" y="960">139</text></g>
<g id="m144"><text class="lb e" x="341" y="293.3">5/31 弘陵①</text><text class="mn e" x="355.8" y="293.3">144</text></g>
<g id="m145"><text class="lb e" x="341" y="815">5/31 滝二①</text><text class="mn e" x="355.8" y="815">145</text></g>
<g id="m148"><text class="lb" x="302" y="554">6/6</text><text class="lb" x="323" y="554">五サ</text><text class="lb" x="347" y="554">11:00</text><text class="mn e" x="388.5" y="554">148</text></g>
</g>

<g id="matches-right-r1">
<g id="m16"><text class="mn" x="689.3" y="65.9">16</text><text class="lb" x="701" y="65.9">5/3 丹北②</text><text class="sc e" x="685" y="62.1">0</text><text class="sc e" x="685" y="69.7">4</text></g>
<g id="m17"><text class="mn" x="689.3" y="134.6">17</text><text class="lb" x="701" y="134.6">5/3 尼小①</text><text class="sc e" x="685" y="130.8">(5)0</text><text class="sc e" x="685" y="138.4">(4)0</text></g>
<g id="m18"><text class="mn" x="689.3" y="189.6">18</text><text class="lb" x="701" y="189.6">5/3 飾磨②</text><text class="sc e" x="685" y="185.8">1</text><text class="sc e" x="685" y="193.4">0</text></g>
<g id="m19"><text class="mn" x="689.3" y="272">19</text><text class="lb" x="701" y="272">5/3 尼小③</text><text class="sc e" x="685" y="268.2">5</text><text class="sc e" x="685" y="275.8">0</text></g>
<g id="m20"><text class="mn" x="689.3" y="327">20</text><text class="lb" x="701" y="327">5/3 松聖②</text><text class="sc e" x="685" y="323.2">2</text><text class="sc e" x="685" y="330.8">1</text></g>
<g id="m21"><text class="mn" x="689.3" y="409.4">21</text><text class="lb" x="701" y="409.4">5/3 西東①</text><text class="sc e" x="685" y="405.6">3</text><text class="sc e" x="685" y="413.2">0</text></g>
<g id="m22"><text class="mn" x="689.3" y="464.4">22</text><text class="lb" x="701" y="464.4">5/3 社 ①</text><text class="sc e" x="685" y="460.6">7</text><text class="sc e" x="685" y="468.2">0</text></g>
<g id="m23"><text class="mn" x="689.3" y="533.1">23</text><text class="lb" x="701" y="533.1">5/3 松聖①</text><text class="sc e" x="685" y="529.3">7</text><text class="sc e" x="685" y="536.9">0</text></g>
<g id="m24"><text class="mn" x="689.3" y="588">24</text><text class="lb" x="701" y="588">5/3 社 ③</text><text class="sc e" x="685" y="584.2">14</text><text class="sc e" x="685" y="591.8">0</text></g>
<g id="m25"><text class="mn" x="689.3" y="656.7">25</text><text class="lb" x="701" y="656.7">5/3 西東③</text><text class="sc e" x="685" y="652.9">0</text><text class="sc e" x="685" y="660.5">2</text></g>
<g id="m26"><text class="mn" x="689.3" y="711.7">26</text><text class="lb" x="701" y="711.7">5/3 高塚②</text><text class="sc e" x="685" y="707.9">1</text><text class="sc e" x="685" y="715.5">7</text></g>
<g id="m27"><text class="mn" x="689.3" y="794.1">27</text><text class="lb" x="701" y="794.1">5/3 尼小②</text><text class="sc e" x="685" y="790.3">ex5</text><text class="sc e" x="685" y="797.9">1</text></g>
<g id="m28"><text class="mn" x="689.3" y="849.1">28</text><text class="lb" x="701" y="849.1">5/4 三木①</text><text class="sc e" x="685" y="845.3">1</text><text class="sc e" x="685" y="852.9">0</text></g>
<g id="m29"><text class="mn" x="689.3" y="931.5">29</text><text class="lb" x="701" y="931.5">5/3 丹北④</text><text class="sc e" x="685" y="927.7">12</text><text class="sc e" x="685" y="935.3">0</text></g>
<g id="m30"><text class="mn" x="689.3" y="986.5">30</text><text class="lb" x="701" y="986.5">5/3 松聖⑤</text><text class="sc e" x="685" y="982.7">0</text><text class="sc e" x="685" y="990.3">1</text></g>
<g id="m31"><text class="mn" x="689.3" y="1055.2">31</text><text class="lb" x="701" y="1055.2">5/3 飾磨①</text><text class="sc e" x="685" y="1051.4">4</text><text class="sc e" x="685" y="1059">2</text></g>
</g>

<g id="matches-right-r2">
<g id="m60"><text class="mn" x="653.3" y="79.7">60</text><text class="lb" x="667" y="79.7">5/10 神専①</text><text class="sc e" x="649" y="75.9">0</text><text class="sc e" x="649" y="83.5">1</text></g>
<g id="m61"><text class="mn" x="653.3" y="107.1">61</text><text class="lb" x="667" y="107.1">5/11 城西③</text><text class="sc e" x="649" y="103.3">0</text><text class="sc e" x="649" y="110.9">3</text></g>
<g id="m62"><text class="mn" x="653.3" y="148.4">62</text><text class="lb" x="667" y="148.4">5/10 松聖②</text><text class="sc e" x="649" y="144.6">1</text><text class="sc e" x="649" y="152.2">0</text></g>
<g id="m63"><text class="mn" x="653.3" y="175.9">63</text><text class="lb" x="667" y="175.9">5/11 琴丘①</text><text class="sc e" x="649" y="172.1">7</text><text class="sc e" x="649" y="179.7">0</text></g>
<g id="m64"><text class="mn" x="653.3" y="217.1">64</text><text class="lb" x="667" y="217.1">5/10 丹西④</text><text class="sc e" x="649" y="213.3">2</text><text class="sc e" x="649" y="220.9">1</text></g>
<g id="m65"><text class="mn" x="653.3" y="244.5">65</text><text class="lb" x="667" y="244.5">5/11 明専②</text><text class="sc e" x="649" y="240.7">2</text><text class="sc e" x="649" y="248.3">1</text></g>
<g id="m66"><text class="mn" x="653.3" y="285.8">66</text><text class="lb" x="667" y="285.8">5/10 県伊③</text><text class="sc e" x="649" y="282">1</text><text class="sc e" x="649" y="289.6">ex2</text></g>
<g id="m67"><text class="mn" x="653.3" y="313.3">67</text><text class="lb" x="667" y="313.3">5/10 北須③</text><text class="sc e" x="649" y="309.5">1</text><text class="sc e" x="649" y="317.1">8</text></g>
<g id="m68"><text class="mn" x="653.3" y="354.5">68</text><text class="lb" x="667" y="354.5">5/11 琴丘④</text><text class="sc e" x="649" y="350.7">1</text><text class="sc e" x="649" y="358.3">0</text></g>
<g id="m69"><text class="mn" x="653.3" y="381.9">69</text><text class="lb" x="667" y="381.9">5/10 県伊④</text><text class="sc e" x="649" y="378.1">1</text><text class="sc e" x="649" y="385.7">0</text></g>
<g id="m70"><text class="mn" x="653.3" y="423.2">70</text><text class="lb" x="667" y="423.2">5/10 西東①</text><text class="sc e" x="649" y="419.4">5</text><text class="sc e" x="649" y="427">1</text></g>
<g id="m71"><text class="mn" x="653.3" y="450.7">71</text><text class="lb" x="667" y="450.7">5/11 社 ①</text><text class="sc e" x="649" y="446.9">0</text><text class="sc e" x="649" y="454.5">8</text></g>
<g id="m72"><text class="mn" x="653.3" y="491.9">72</text><text class="lb" x="667" y="491.9">5/10 北須④</text><text class="sc e" x="649" y="488.1">1</text><text class="sc e" x="649" y="495.7">3</text></g>
<g id="m73"><text class="mn" x="653.3" y="519.4">73</text><text class="lb" x="667" y="519.4">5/10 松聖①</text><text class="sc e" x="649" y="515.6">1</text><text class="sc e" x="649" y="523.2">4</text></g>
<g id="m74"><text class="mn" x="653.3" y="601.8">74</text><text class="lb" x="667" y="601.8">5/10 北須②</text><text class="sc e" x="649" y="598">(6)1</text><text class="sc e" x="649" y="605.6">(7)1</text></g>
<g id="m75"><text class="mn" x="653.3" y="629.3">75</text><text class="lb" x="667" y="629.3">5/10 飾磨④</text><text class="sc e" x="649" y="625.5">(5)1</text><text class="sc e" x="649" y="633.1">(4)1</text></g>
<g id="m76"><text class="mn" x="653.3" y="670.5">76</text><text class="lb" x="667" y="670.5">5/10 西浜①</text><text class="sc e" x="649" y="666.7">0</text><text class="sc e" x="649" y="674.3">1</text></g>
<g id="m77"><text class="mn" x="653.3" y="698">77</text><text class="lb" x="667" y="698">5/10 西東③</text><text class="sc e" x="649" y="694.2">4</text><text class="sc e" x="649" y="701.8">0</text></g>
<g id="m78"><text class="mn" x="653.3" y="739.2">78</text><text class="lb" x="667" y="739.2">5/10 丹西②</text><text class="sc e" x="649" y="735.4">2</text><text class="sc e" x="649" y="743">1</text></g>
<g id="m79"><text class="mn" x="653.3" y="766.7">79</text><text class="lb" x="667" y="766.7">5/11 琴丘③</text><text class="sc e" x="649" y="762.9">4</text><text class="sc e" x="649" y="770.5">1</text></g>
<g id="m80"><text class="mn" x="653.3" y="807.9">80</text><text class="lb" x="667" y="807.9">5/11 明専④</text><text class="sc e" x="649" y="804.1">2</text><text class="sc e" x="649" y="811.7">0</text></g>
<g id="m81"><text class="mn" x="653.3" y="835.4">81</text><text class="lb" x="667" y="835.4">5/11 城西②</text><text class="sc e" x="649" y="831.6">ex1</text><text class="sc e" x="649" y="839.2">0</text></g>
<g id="m82"><text class="mn" x="653.3" y="876.6">82</text><text class="lb" x="667" y="876.6">5/11 社 ②</text><text class="sc e" x="649" y="872.8">7</text><text class="sc e" x="649" y="880.4">1</text></g>
<g id="m83"><text class="mn" x="653.3" y="904.1">83</text><text class="lb" x="667" y="904.1">5/10 神専②</text><text class="sc e" x="649" y="900.3">(4)0</text><text class="sc e" x="649" y="907.9">(2)0</text></g>
<g id="m84"><text class="mn" x="653.3" y="945.3">84</text><text class="lb" x="667" y="945.3">5/10 西浜③</text><text class="sc e" x="649" y="941.5">(5)0</text><text class="sc e" x="649" y="949.1">(6)0</text></g>
<g id="m85"><text class="mn" x="653.3" y="972.8">85</text><text class="lb" x="667" y="972.8">5/11 啓明④</text><text class="sc e" x="649" y="969">1</text><text class="sc e" x="649" y="976.6">2</text></g>
<g id="m86"><text class="mn" x="653.3" y="1014">86</text><text class="lb" x="667" y="1014">5/10 西東②</text><text class="sc e" x="649" y="1010.2">2</text><text class="sc e" x="649" y="1017.8">3</text></g>
<g id="m87"><text class="mn" x="653.3" y="1041.5">87</text><text class="lb" x="667" y="1041.5">5/10 飾磨①</text><text class="sc e" x="649" y="1037.7">0</text><text class="sc e" x="649" y="1045.3">2</text></g>
</g>

<g id="matches-right-r3">
<g id="m104"><text class="mn" x="613.3" y="59.3">104</text><text class="lb" x="629" y="56.5">5/18 滝二④</text></g>
<g id="m105"><text class="mn" x="613.3" y="127.7">105</text><text class="lb" x="629" y="127.7">5/17 社 ③</text></g>
<g id="m106"><text class="mn" x="613.3" y="197.7">106</text><text class="lb" x="629" y="197.7">5/17 琴丘①</text></g>
<g id="m107"><text class="mn" x="613.3" y="262.3">107</text><text class="lb" x="629" y="262.3">5/18 西浜④</text></g>
<g id="m108"><text class="mn" x="613.3" y="334.3">108</text><text class="lb" x="629" y="334.3">5/17 関学②</text></g>
<g id="m109"><text class="mn" x="613.3" y="401.7">109</text><text class="lb" x="629" y="401.7">5/17 芦学④</text></g>
<g id="m110"><text class="mn" x="613.3" y="473.3">110</text><text class="lb" x="629" y="473.3">5/17 社 ①</text></g>
<g id="m111"><text class="mn" x="613.3" y="543.3">111</text><text class="lb" x="629" y="543.3">5/17 松聖③</text></g>
<g id="m112"><text class="mn" x="613.3" y="580">112</text><text class="lb" x="629" y="580">5/18 三田②</text></g>
<g id="m113"><text class="mn" x="613.3" y="647.7">113</text><text class="lb" x="629" y="647.7">5/18 西浜①</text></g>
<g id="m114"><text class="mn" x="613.3" y="725">114</text><text class="lb" x="629" y="725">5/18 弘陵②</text></g>
<g id="m115"><text class="mn" x="613.3" y="786">115</text><text class="lb" x="629" y="786">5/17 社 ②</text></g>
<g id="m116"><text class="mn" x="613.3" y="861.7">116</text><text class="lb" x="629" y="861.7">5/17 社 ④</text></g>
<g id="m117"><text class="mn" x="613.3" y="924.3">117</text><text class="lb" x="629" y="924.3">5/18 滝二②</text></g>
<g id="m118"><text class="mn" x="613.3" y="997.7">118</text><text class="lb" x="629" y="997.7">5/17 明南④</text></g>
<g id="m119"><text class="mn" x="613.3" y="1064.3">119</text><text class="lb" x="629" y="1064.3">5/18 西浜②</text></g>
</g>

<g id="matches-right-r4">
<g id="m128"><text class="mn" x="571.3" y="93.3">128</text><text class="lb" x="586" y="93.3">5/24 関学②</text></g>
<g id="m129"><text class="mn" x="571.3" y="231.7">129</text><text class="lb" x="586" y="231.7">5/24 姫球②</text></g>
<g id="m130"><text class="mn" x="571.3" y="368.3">130</text><text class="lb" x="586" y="368.3">5/24 西東②</text></g>
<g id="m131"><text class="mn" x="571.3" y="505.7">131</text><text class="lb" x="586" y="505.7">5/24 松聖③</text></g>
<g id="m132"><text class="mn" x="571.3" y="616.7">132</text><text class="lb" x="586" y="616.7">5/24 滝二④</text></g>
<g id="m133"><text class="mn" x="571.3" y="753.3">133</text><text class="lb" x="586" y="753.3">5/24 松聖④</text></g>
<g id="m134"><text class="mn" x="571.3" y="890">134</text><text class="lb" x="586" y="890">5/24 啓明②</text></g>
<g id="m135"><text class="mn" x="571.3" y="1026.7">135</text><text class="lb" x="586" y="1026.7">5/24 姫球③</text></g>
<g id="m140"><text class="mn" x="528.3" y="162.7">140</text><text class="lb" x="543" y="162.7">5/25 弘陵②</text></g>
<g id="m141"><text class="mn" x="528.3" y="438.3">141</text><text class="lb" x="543" y="438.3">5/25 松聖③</text></g>
<g id="m142"><text class="mn" x="528.3" y="683.3">142</text><text class="lb" x="543" y="683.3">5/25 滝二④</text></g>
<g id="m143"><text class="mn" x="528.3" y="960">143</text><text class="lb" x="543" y="960">5/25 松聖④</text></g>
<g id="m146"><text class="mn" x="486.3" y="293.3">146</text><text class="lb" x="508" y="293.3">5/31 滝二②</text></g>
<g id="m147"><text class="mn" x="486.3" y="815">147</text><text class="lb" x="508" y="815">5/31 弘陵②</text></g>
<g id="m149"><text class="mn" x="454" y="554">149</text><text class="lb" x="468" y="554">6/6</text><text class="lb" x="487" y="554">五サ</text><text class="lb" x="517" y="554">13:00</text></g>
</g>

<g id="final">
<text class="lb c" x="420.5" y="540">決 勝</text>
<text class="mn c" x="420.5" y="559.5">150</text>
<text class="lb c" x="420.5" y="574">6/8</text>
<text class="lb c" x="420.5" y="587.3">三階　11:00</text>
<text class="lb c" x="420.5" y="616">三 決</text>
<text class="mn c" x="420.5" y="635">151</text>
<text class="lb c" x="420.5" y="650">6/8</text>
<text class="lb c" x="420.5" y="662.7">三階　13:00</text>
</g>

<g id="legend">
<path d="M399 55Q403 55 403 59V63Q403 66.5 407 66.5Q403 66.5 403 70V74Q403 78 399 78M399 82Q403 82 403 86V90Q403 93.5 407 93.5Q403 93.5 403 97V101Q403 105 399 105M399 110Q403 110 403 114V118Q403 121.5 407 121.5Q403 121.5 403 125V129Q403 133 399 133" fill="none" stroke="#444" stroke-width="0.9"/>
<text class="lb" x="368.5" y="59.3">5/ 3(土)</text>
<text class="lb" x="368.5" y="73.3">5/ 4(日)</text>
<text class="lb" x="368.5" y="87.3">5/10(土)</text>
<text class="lb" x="368.5" y="100.7">5/11(日)</text>
<text class="lb" x="368.5" y="114.3">5/17(土)</text>
<text class="lb" x="368.5" y="127.7">5/18(日)</text>
<text class="lb" x="368.5" y="141.7">5/24(土)</text>
<text class="lb" x="368.5" y="155.7">5/25(日)</text>
<text class="lb" x="368.5" y="169.3">5/31(土)</text>
<text class="lb" x="368.5" y="183.3">6/ 6(金)</text>
<text class="lb" x="368.5" y="196.7">6/ 8(日)</text>
<text class="lb e" x="449" y="66.7">1 回 戦</text>
<text class="lb e" x="449" y="94">2 回 戦</text>
<text class="lb e" x="449" y="121.7">3 回 戦</text>
<text class="lb e" x="449" y="141.7">4 回 戦</text>
<text class="lb e" x="449" y="155.7">5 回 戦</text>
<text class="lb e" x="449" y="169.3">準々決勝</text>
<text class="lb e" x="449" y="183.3">準 決 勝</text>
<text class="lb e" x="449" y="196.7">決勝・三決</text>
<text class="lb c" x="421.7" y="220">(開始時間)</text>
<text class="lb" x="398" y="238.3">①</text><text class="lb" x="407" y="238.3">……</text><text class="lb" x="427" y="238.3">10:00</text>
<text class="lb" x="398" y="251.7">②</text><text class="lb" x="407" y="251.7">……</text><text class="lb" x="427" y="251.7">11:30</text>
<text class="lb" x="398" y="265.7">③</text><text class="lb" x="407" y="265.7">……</text><text class="lb" x="427" y="265.7">13:00</text>
<text class="lb" x="398" y="279">④</text><text class="lb" x="407" y="279">……</text><text class="lb" x="427" y="279">14:30</text>
</g>

<g id="venues">
<text class="vn c" x="428" y="876" style="font-size:5.5px;fill:#444">〈会場〉</text>
<text class="vn" x="373" y="885">三階―三木総合防災公園陸上競技場</text>
<text class="vn" x="373" y="891.9">五サ―アスパ五色サブグラウンド</text>
<text class="vn" x="373" y="898.8">西浜―西宮浜総合公園ベイコムフィールド</text>
<text class="vn" x="373" y="905.7">姫球―姫路球技スポーツセンター</text>
<text class="vn" x="373" y="912.6">明専―国立明石工業高等専門学校</text>
<text class="vn" x="373" y="919.5">城西―県立明石城西高等学校</text>
<text class="vn" x="373" y="926.4">明南―県立明石南高等学校</text>
<text class="vn" x="373" y="933.3">芦学―芦屋学園西町人工芝グラウンド</text>
<text class="vn" x="373" y="940.2">尼小―県立尼崎小田高等学校</text>
<text class="vn" x="373" y="947.1">県伊―県立伊丹高等学校</text>
<text class="vn" x="373" y="954">丹北―県立伊丹北高等学校</text>
<text class="vn" x="373" y="960.9">丹西―県立伊丹西高等学校</text>
<text class="vn" x="373" y="967.8">関学―関西学院大学第4フィールド</text>
<text class="vn" x="373" y="974.7">北須―県立北須磨高等学校</text>
<text class="vn" x="373" y="981.6">啓明―啓明学院高等学校</text>
<text class="vn" x="373" y="988.5">神院―神戸学院グラウンド</text>
<text class="vn" x="373" y="995.4">弘陵―神戸弘陵学園高等学校</text>
<text class="vn" x="373" y="1002.3">高塚―県立神戸高塚高等学校</text>
<text class="vn" x="373" y="1009.2">神専―神戸市立工業高等専門学校</text>
<text class="vn" x="373" y="1016.1">琴丘―姫路市立琴丘高等学校</text>
<text class="vn" x="373" y="1023">三田―三田学園高等学校</text>
<text class="vn" x="373" y="1029.9">松聖―三田松聖高等学校</text>
<text class="vn" x="373" y="1036.8">飾磨―姫路市立飾磨高等学校</text>
<text class="vn" x="373" y="1043.7">滝二―滝川第二高等学校</text>
<text class="vn" x="373" y="1050.6">灘　―灘高等学校</text>
<text class="vn" x="373" y="1057.5">西東―西宮市立西宮東高等学校</text>
<text class="vn" x="373" y="1064.4">三木―県立三木高等学校</text>
<text class="vn" x="373" y="1071.3">社　―県立社高等学校</text>
</g>
</svg>
